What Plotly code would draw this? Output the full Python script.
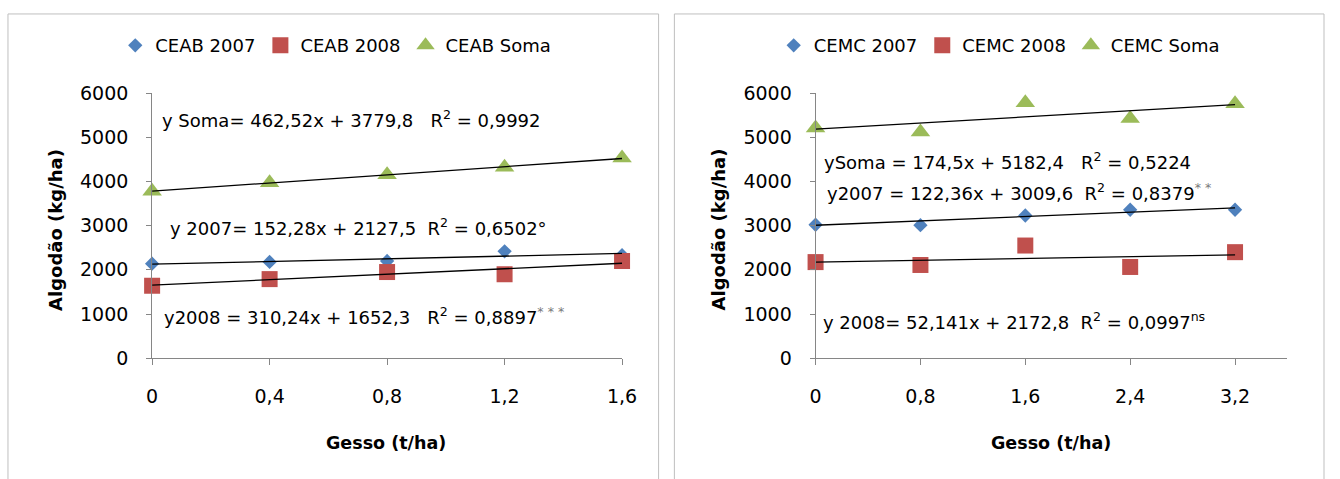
import plotly.graph_objects as go

W, H = 1340, 479

# ---------------- data ----------------
doses_ceab = [0, 0.4, 0.8, 1.2, 1.6]
doses_cemc = [0, 0.8, 1.6, 2.4, 3.2]
ticks_ceab = ["0", "0,4", "0,8", "1,2", "1,6"]
ticks_cemc = ["0", "0,8", "1,6", "2,4", "3,2"]
y_ticks = [0, 1000, 2000, 3000, 4000, 5000, 6000]

ceab_2007 = [2140, 2180, 2200, 2420, 2330]
ceab_2008 = [1640, 1790, 1950, 1900, 2200]
ceab_soma = [3780, 3970, 4150, 4320, 4530]

cemc_2007 = [3020, 3010, 3230, 3360, 3360]
cemc_2008 = [2175, 2110, 2550, 2065, 2400]
cemc_soma = [5210, 5120, 5780, 5425, 5760]

series_names_ceab = ["CEAB 2007", "CEAB 2008", "CEAB Soma"]
series_names_cemc = ["CEMC 2007", "CEMC 2008", "CEMC Soma"]

# linear trend coefficients (2007, 2008, Soma)
ceab_slopes = [152.28, 310.24, 462.52]
ceab_intercepts = [2127.5, 1652.3, 3779.8]
cemc_slopes = [122.36, 52.141, 174.5]
cemc_intercepts = [3009.6, 2172.8, 5182.4]

GRAY_SUP = "<sup><span style='color:#7a7a7a'>%s</span></sup>"
ceab_eqs = [
    "y 2007= 152,28x + 2127,5  R<sup>2</sup> = 0,6502°",
    "y2008 = 310,24x + 1652,3   R<sup>2</sup> = 0,8897" + GRAY_SUP % "* * *",
    "y Soma= 462,52x + 3779,8   R<sup>2</sup> = 0,9992",
]
cemc_eqs = [
    "y2007 = 122,36x + 3009,6  R<sup>2</sup> = 0,8379" + GRAY_SUP % "* *",
    "y 2008= 52,141x + 2172,8  R<sup>2</sup> = 0,0997<sup>ns</sup>",
    "ySoma = 174,5x + 5182,4   R<sup>2</sup> = 0,5224",
]

# ---------------- layout helpers (pixel targets -> paper fractions) ----------------
SX, SY, OX, OY = 1336 / 1340, 462 / 479, 2.0, 8.0

def fx(px):
    return ((px - OX) / SX) / W

def fy(py):
    return 1 - ((py - OY) / SY) / H

# ---------------- styles ----------------
FONT = "DejaVu Sans"
colors = ["#4F81BD", "#C0504D", "#9BBB59"]
symbols = ["diamond", "square", "triangle-up"]
sizes = [11, 16, 17]

fig = go.Figure()

def add_panel(xs, ys_list, names, slopes, intercepts, xa, ya, legend):
    for i, (ys, name) in enumerate(zip(ys_list, names)):
        fig.add_trace(go.Scatter(
            x=xs, y=ys, mode="markers", name=name,
            marker=dict(color=colors[i], symbol=symbols[i], size=sizes[i], line=dict(width=0)),
            xaxis=xa, yaxis=ya, legend=legend, cliponaxis=False,
        ))
    for b, a in zip(slopes, intercepts):
        xl = [xs[0], xs[-1]]
        fig.add_trace(go.Scatter(
            x=xl, y=[a + b * v for v in xl], mode="lines",
            line=dict(color="black", width=1.3), showlegend=False,
            xaxis=xa, yaxis=ya, hoverinfo="skip", cliponaxis=False,
        ))

add_panel(doses_ceab, [ceab_2007, ceab_2008, ceab_soma], series_names_ceab,
          ceab_slopes, ceab_intercepts, "x", "y", "legend")
add_panel(doses_cemc, [cemc_2007, cemc_2008, cemc_soma], series_names_cemc,
          cemc_slopes, cemc_intercepts, "x2", "y2", "legend2")

ydom = [fy(359), fy(91)]
axis_common = dict(showline=True, linecolor="#868686", linewidth=1, ticks="outside",
                   tickcolor="#868686", showgrid=False, zeroline=False,
                   tickfont=dict(family=FONT, size=19, color="black"))

fig.update_layout(
    width=W, height=H, margin=dict(l=0, r=0, t=0, b=0),
    paper_bgcolor="white", plot_bgcolor="white",
    font=dict(family=FONT, color="black"),
    xaxis=dict(domain=[fx(150), fx(626)], range=[0, 1.6], tickvals=doses_ceab, ticktext=ticks_ceab,
               ticklen=6, ticklabelstandoff=15, anchor="y", **axis_common),
    yaxis=dict(domain=ydom, range=[0, 6000], tickvals=y_ticks, ticklen=5,
               ticklabelstandoff=14, anchor="x", **axis_common),
    xaxis2=dict(domain=[fx(822), fx(1300)], range=[0, 3.6], tickvals=doses_cemc, ticktext=ticks_cemc,
                ticklen=6, ticklabelstandoff=15, anchor="y2", **axis_common),
    yaxis2=dict(domain=ydom, range=[0, 6000], tickvals=y_ticks, ticklen=5,
                ticklabelstandoff=14, anchor="x2", **axis_common),
    legend=dict(orientation="h", x=fx(336), xanchor="center", y=fy(43), yanchor="middle",
                font=dict(family=FONT, size=18, color="black"), bgcolor="rgba(0,0,0,0)"),
    legend2=dict(orientation="h", x=fx(1008), xanchor="center", y=fy(43), yanchor="middle",
                 font=dict(family=FONT, size=18, color="black"), bgcolor="rgba(0,0,0,0)"),
)

# chart frames
for x0, x1 in [(4, 663), (679, 1337)]:
    fig.add_shape(type="rect", xref="paper", yref="paper",
                  x0=fx(x0), x1=fx(x1), y0=-0.05, y1=fy(11),
                  line=dict(color="#BFBFBF", width=1), fillcolor="rgba(0,0,0,0)", layer="below")

def ann(text, px, py, **kw):
    d = dict(text=text, x=fx(px), y=fy(py), xref="paper", yref="paper",
             showarrow=False, xanchor="left", yanchor="middle",
             font=dict(family=FONT, size=18, color="black"))
    d.update(kw)
    fig.add_annotation(**d)

# equations (2007, 2008, Soma)
for txt, (px, py) in zip(ceab_eqs, [(166, 226), (160, 316), (158, 117)]):
    ann(txt, px, py)
for txt, (px, py) in zip(cemc_eqs, [(832, 191), (827, 321), (829, 160)]):
    ann(txt, px, py)

# axis titles
for cx in [387, 1060]:
    ann("<b>Gesso (t/ha)</b>", cx, 445, xanchor="center",
        font=dict(family=FONT, size=17.5, color="black"))
for cx in [52, 724]:
    ann("<b>Algodão (kg/ha)</b>", cx, 229, xanchor="center", textangle=-90,
        font=dict(family=FONT, size=18, color="black"))

POST = (
    "document.documentElement.style.margin='0';"
    "document.body.style.margin='0';"
    "document.body.style.overflow='hidden';"
)
fig.write_html("out.html", config={"displayModeBar": False}, post_script=POST)
